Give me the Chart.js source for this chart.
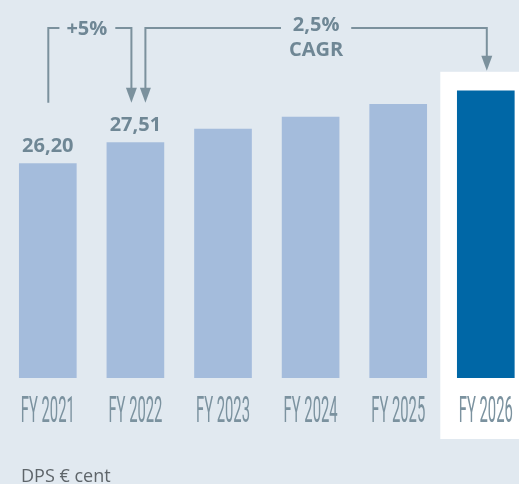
<!DOCTYPE html>
<html>
<head>
<meta charset="utf-8">
<script src="https://cdn.jsdelivr.net/npm/chart.js@4/dist/chart.umd.min.js"></script>
<style>
  html, body { margin: 0; padding: 0; background: #e1e9f0; }
  #wrap { width: 519px; height: 484px; position: relative; }
</style>
</head>
<body>
<div id="wrap"><canvas id="c"></canvas></div>
<script>
// ---- data ----
const categories = ['FY 2021', 'FY 2022', 'FY 2023', 'FY 2024', 'FY 2025', 'FY 2026'];
const dps = [26.20, 27.51, 28.35, 29.10, 29.90, 30.75];
const valueLabels = ['26,20', '27,51', '', '', '', ''];
const growthLabel = '+5%';
const cagrLabel = ['2,5%', 'CAGR'];
const unitLabel = 'DPS € cent';

// ---- styles ----
const BG = '#e1e9f0';
const LIGHT = '#a4bcdc';
const DARK = '#0067a6';
const LINE = '#7b919d';
const TEXT = '#6f8795';
const XTEXT = '#7b929f';
const barColors = categories.map((c, i) => i === categories.length - 1 ? DARK : LIGHT);

function arrowDown(ctx, x, tipY) {
  ctx.beginPath();
  ctx.moveTo(x - 5.5, tipY - 15);
  ctx.lineTo(x + 5.5, tipY - 15);
  ctx.lineTo(x, tipY);
  ctx.closePath();
  ctx.fill();
}

const panelPlugin = {
  id: 'panel',
  beforeDatasetsDraw(chart) {
    const ctx = chart.ctx;
    const b = chart.getDatasetMeta(0).data;
    const last = b[b.length - 1];
    const ca = chart.chartArea;
    const left = last.x - last.width / 2 - 17;
    const top = last.y - 19;
    ctx.save();
    ctx.fillStyle = '#ffffff';
    ctx.fillRect(left, top, chart.width - left, ca.bottom + 61 - top);
    ctx.restore();
  }
};

const annoPlugin = {
  id: 'anno',
  afterDatasetsDraw(chart) {
    const ctx = chart.ctx;
    const b = chart.getDatasetMeta(0).data;
    const ca = chart.chartArea;
    ctx.save();
    // value labels
    ctx.font = 'bold 20px "Open Sans"';
    ctx.fillStyle = TEXT;
    ctx.textAlign = 'center';
    ctx.textBaseline = 'alphabetic';
    valueLabels.forEach((t, i) => { if (t) ctx.fillText(t, b[i].x, b[i].y - 12); });

    // brackets
    const lineY = 28;
    const tipY = b[1].y - 40;
    ctx.strokeStyle = LINE;
    ctx.fillStyle = LINE;
    ctx.lineWidth = 2;

    // +5% bracket
    const x1 = b[0].x + 0.5, x2 = b[1].x - 4;
    const w1 = ctx.measureText(growthLabel).width;
    const c1 = (x1 + x2) / 2 - 3;
    ctx.beginPath();
    ctx.moveTo(x1, tipY); ctx.lineTo(x1, lineY); ctx.lineTo(c1 - w1 / 2 - 7, lineY);
    ctx.moveTo(c1 + w1 / 2 + 8, lineY); ctx.lineTo(x2, lineY); ctx.lineTo(x2, tipY - 12);
    ctx.stroke();
    arrowDown(ctx, x2, tipY);

    // CAGR bracket
    const x3 = b[1].x + 10, x4 = b[5].x + 1;
    const tip2 = b[5].y - 20;
    const w2 = Math.max(...cagrLabel.map(t => ctx.measureText(t).width));
    const c2 = (x3 + x4) / 2;
    ctx.beginPath();
    ctx.moveTo(x3, tipY - 12); ctx.lineTo(x3, lineY); ctx.lineTo(c2 - w2 / 2 - 8, lineY);
    ctx.moveTo(c2 + w2 / 2 + 8, lineY); ctx.lineTo(x4, lineY); ctx.lineTo(x4, tip2 - 12);
    ctx.stroke();
    arrowDown(ctx, x3, tipY);
    arrowDown(ctx, x4, tip2);

    ctx.fillStyle = TEXT;
    ctx.textBaseline = 'middle';
    ctx.fillText(growthLabel, c1, lineY + 1);
    ctx.fillText(cagrLabel[0], c2, lineY - 3);
    ctx.fillText(cagrLabel[1], c2, lineY + 22);

    // x labels (condensed)
    ctx.fillStyle = XTEXT;
    ctx.textBaseline = 'alphabetic';
    ctx.font = '400 37px Roboto';
    const sx = 0.4;
    categories.forEach((t, i) => {
      ctx.save();
      ctx.translate(b[i].x, ca.bottom + 44);
      ctx.scale(sx, 1);
      ctx.fillText(t, 0, 0);
      ctx.restore();
    });

    // unit label
    ctx.fillStyle = '#5e656a';
    ctx.textAlign = 'left';
    ctx.font = '18px "Open Sans"';
    ctx.fillText(unitLabel, ca.left + 21, chart.height - 2);
    ctx.restore();
  }
};

new Chart(document.getElementById('c'), {
  type: 'bar',
  data: {
    datasets: [{
      data: dps.map((v, i) => ({ x: i, y: v })),
      backgroundColor: barColors,
      borderWidth: 0,
      barThickness: 57
    }]
  },
  options: {
    responsive: true,
    maintainAspectRatio: false,
    animation: false,
    layout: { padding: { top: 10, bottom: 106, left: 0, right: 0 } },
    plugins: { legend: { display: false }, tooltip: { enabled: false }, title: { display: false } },
    scales: {
      x: { type: 'linear', min: -0.5457, max: 5.379, display: false, offset: false },
      y: { min: 12.8, max: 35.8, display: false }
    }
  },
  plugins: [panelPlugin, annoPlugin]
});
</script>
</body>
</html>
